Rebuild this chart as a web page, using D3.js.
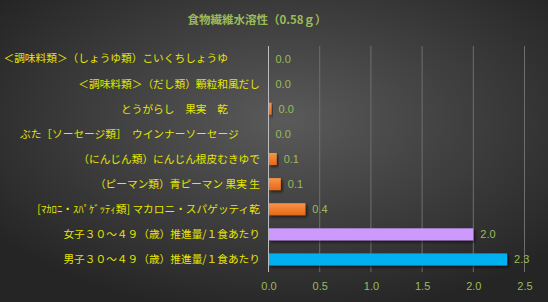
<!DOCTYPE html>
<html><head><meta charset="utf-8">
<script src="https://cdn.jsdelivr.net/npm/d3@7"></script>
<style>body{margin:0;background:#333;}svg{display:block;}</style>
</head><body>
<script>
const categories = [
  "＜調味料類＞（しょうゆ類）こいくちしょうゆ\u3000\u3000\u3000",
  "＜調味料類＞（だし類）顆粒和風だし",
  "とうがらし\u3000果実\u3000乾\u3000\u3000\u3000",
  "ぶた［ソーセージ類］\u3000ウインナーソーセージ\u3000\u3000",
  "（にんじん類）にんじん根皮むきゆで",
  "（ピーマン類）青ピーマン 果実 生",
  "[ﾏｶﾛﾆ・ｽﾊﾟｹﾞｯﾃｨ類] マカロニ・スパゲッティ乾",
  "女子３０～４９（歳）推進量/１食あたり",
  "男子３０～４９（歳）推進量/１食あたり"
];
const values = [0, 0, 0.03, 0, 0.08, 0.12, 0.36, 2.0, 2.33];
const valueLabels = ["0.0","0.0","0.0","0.0","0.1","0.1","0.4","2.0","2.3"];
const barColors = ["orange","orange","orange","orange","orange","orange","orange","#CC99FF","#00B0F0"];
const tickValues = [0, 0.5, 1.0, 1.5, 2.0, 2.5];
const title = "食物繊維水溶性（0.58ｇ）";

const W = 548, H = 302;
const svg = d3.select("body").append("svg").attr("width", W).attr("height", H);
const defs = svg.append("defs");
const bg = defs.append("radialGradient").attr("id","bg").attr("cx","52%").attr("cy","40%").attr("r","65%");
bg.append("stop").attr("offset","0%").attr("stop-color","#5a5a5a");
bg.append("stop").attr("offset","100%").attr("stop-color","#252525");
const og = defs.append("linearGradient").attr("id","og").attr("x1",0).attr("y1",0).attr("x2",0).attr("y2",1);
og.append("stop").attr("offset","0%").attr("stop-color","#F79646");
og.append("stop").attr("offset","100%").attr("stop-color","#E8661A");
const sh = defs.append("filter").attr("id","sh").attr("x","-10%").attr("y","-30%").attr("width","130%").attr("height","180%");
sh.append("feDropShadow").attr("dx",2).attr("dy",2).attr("stdDeviation",1.5).attr("flood-color","#000").attr("flood-opacity",0.55);

svg.append("rect").attr("width",W).attr("height",H).attr("fill","url(#bg)");

const x = d3.scaleLinear().domain([0, 2.5]).range([268.5, 524.5]);
const y = d3.scaleBand().domain(categories).range([46, 272]).paddingInner(0.52).paddingOuter(0.26);

// gridlines
svg.append("g").selectAll("line").data(tickValues.slice(1)).join("line")
  .attr("x1", d => x(d)).attr("x2", d => x(d)).attr("y1", 46).attr("y2", 272)
  .attr("stroke", "#6e6e6e").attr("stroke-width", 1);

// title
svg.append("text").attr("x", 257).attr("y", 24).attr("text-anchor","middle")
  .attr("font-family","'Noto Sans CJK JP', sans-serif").attr("font-size","11.5px").attr("font-weight","bold")
  .attr("fill","#9BBB59").text(title);

// bars
svg.append("g").selectAll("rect").data(values).join("rect")
  .attr("x", x(0)).attr("y", (d,i) => y(categories[i]))
  .attr("width", d => x(d) - x(0)).attr("height", y.bandwidth())
  .attr("fill", (d,i) => barColors[i] === "orange" ? "url(#og)" : barColors[i])
  .attr("filter","url(#sh)");

// zero axis line
svg.append("line").attr("x1", x(0)).attr("x2", x(0)).attr("y1", 46).attr("y2", 272)
  .attr("stroke", "#bdbdbd").attr("stroke-width", 1);

// category labels
svg.append("g").selectAll("text").data(categories).join("text")
  .attr("x", 260).attr("y", d => y(d) + y.bandwidth()/2).attr("dy","0.36em")
  .attr("text-anchor","end").style("white-space","pre")
  .attr("font-family","'Noto Sans CJK JP', sans-serif").attr("font-size","10.7px")
  .attr("fill","#e6e600").text(d => d);

// value labels
svg.append("g").selectAll("text").data(values).join("text")
  .attr("x", d => x(d) + 7).attr("y", (d,i) => y(categories[i]) + y.bandwidth()/2).attr("dy","0.36em")
  .attr("font-family","'Liberation Sans', Arial, sans-serif").attr("font-size","11px")
  .attr("fill","#9BBB59").text((d,i) => valueLabels[i]);

// x axis
const ax = svg.append("g").attr("transform","translate(0,272)")
  .call(d3.axisBottom(x).tickValues(tickValues).tickFormat(d3.format(".1f")).tickSize(0).tickPadding(10));
ax.select(".domain").remove();
ax.selectAll("text").attr("font-family","'Liberation Sans', Arial, sans-serif").attr("font-size","11px").attr("fill","#9BBB59");
</script>
</body></html>
